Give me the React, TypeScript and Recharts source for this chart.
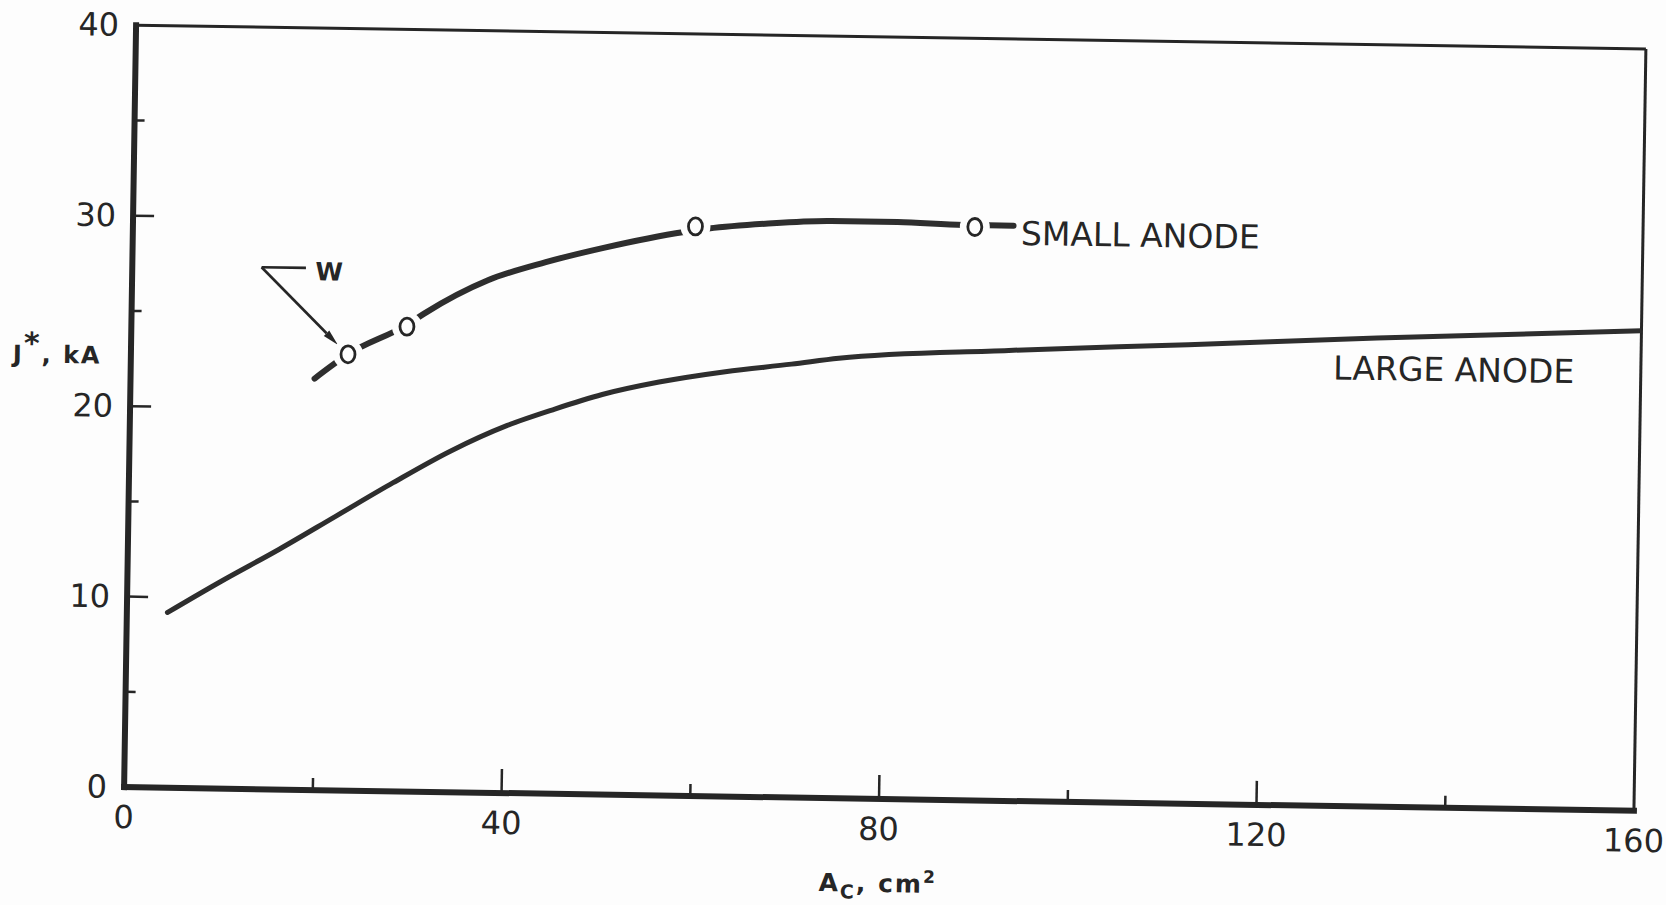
import React from "react";
import {
  ComposedChart, Line, Scatter, XAxis, YAxis, ReferenceLine, ReferenceDot,
} from "recharts";

// large anode curve
const largeX = [4.3, 10, 16, 22, 28, 34, 40, 45, 50, 56, 63, 70, 75, 93, 112, 132, 160];
const largeY = [9.2, 10.9, 12.6, 14.4, 16.2, 17.9, 19.3, 20.2, 21.0, 21.7, 22.3, 22.75, 23.1, 23.65, 24.1, 24.6, 25.2];

// small anode faired curve + measured points (open circles)
const smallX = [19.5, 23, 29.2, 31, 37.7, 43.8, 49.9, 58.4, 61, 67, 74, 81, 88, 93.3];
const smallY = [21.6, 22.9, 24.5, 25.1, 26.9, 27.9, 28.7, 29.6, 29.8, 30.1, 30.3, 30.3, 30.2, 30.2];
const pointX = [23, 29.2, 59.6, 89.2];
const pointY = [22.9, 24.4, 29.9, 30.1];

const xTicks = [0, 20, 40, 60, 80, 100, 120, 140, 160];
const yTicks = [0, 5, 10, 15, 20, 25, 30, 35, 40];

// "W" pointer: elbow, end of short bar, arrow tip, letter position
const wElbow = { x: 13.7, y: 27.4 };
const wBarEnd = { x: 18.4, y: 27.4 };
const wTip = { x: 21.9, y: 23.4 };
const wText = { x: 19.4, y: 27.2 };

const curveLabels = [
  { text: "SMALL ANODE", x: 94.1, y: 29.8 },
  { text: "LARGE ANODE", x: 127.4, y: 23.0 },
];

const INK = "#262626";
const BG = "#fdfdfd";
const FONT = "'DejaVu Sans', sans-serif";

const largeData = largeX.map((x, i) => ({ x, y: largeY[i] }));
const smallData = smallX.map((x, i) => ({ x, y: smallY[i] }));
const pointData = pointX.map((x, i) => ({ x, y: pointY[i] }));

const Y_MARGIN = 17;
const X_MARGIN = 30;

function YTick(props: any) {
  const { x, y, payload } = props;
  const v = payload.value;
  const major = v % 10 === 0;
  const ax = x + Y_MARGIN;
  return (
    <g>
      {v > 0 && v < 40 && (
        <line x1={ax} x2={ax + (major ? 21 : 10)} y1={y} y2={y} stroke={INK} strokeWidth={2.5} />
      )}
      {major && (
        <text x={x} y={y} textAnchor="end" dominantBaseline="central" fontSize={32} fill={INK} fontFamily={FONT}>
          {v}
        </text>
      )}
    </g>
  );
}

function XTick(props: any) {
  const { x, y, payload } = props;
  const v = payload.value;
  const major = v % 40 === 0;
  const ay = y - X_MARGIN;
  return (
    <g>
      {v > 0 && v < 160 && (
        <line x1={x} x2={x} y1={ay} y2={ay - (major ? 24 : 12)} stroke={INK} strokeWidth={2.5} />
      )}
      {major && (
        <text x={x} y={y} textAnchor="middle" dominantBaseline="central" fontSize={32} fill={INK} fontFamily={FONT}>
          {v}
        </text>
      )}
    </g>
  );
}

function OpenCircle(props: any) {
  const { cx, cy } = props;
  return (
    <g>
      <circle cx={cx} cy={cy} r={15} fill={BG} />
      <ellipse cx={cx} cy={cy} rx={7} ry={8.5} fill={BG} stroke={INK} strokeWidth={2.8} />
    </g>
  );
}

function Arrow(p: any) {
  const { x1, y1, x2, y2 } = p;
  const a = Math.atan2(y2 - y1, x2 - x1);
  const L = 16, W = 3.8;
  const bx = x2 - L * Math.cos(a), by = y2 - L * Math.sin(a);
  const nx = -Math.sin(a) * W, ny = Math.cos(a) * W;
  return (
    <g>
      <line x1={x1} y1={y1} x2={bx} y2={by} stroke={INK} strokeWidth={2.6} />
      <polygon points={`${x2},${y2} ${bx + nx},${by + ny} ${bx - nx},${by - ny}`} fill={INK} />
    </g>
  );
}

const textAt = (txt: string, size: number, weight: string | number) => (p: any) => (
  <text
    x={p.viewBox.x}
    y={p.viewBox.y}
    dominantBaseline="central"
    fontSize={size}
    fontWeight={weight}
    fill={INK}
    fontFamily={FONT}
  >
    {txt}
  </text>
);

function JLabel(p: any) {
  const vb = p.viewBox;
  return (
    <text
      x={vb.x + 4}
      y={vb.y + vb.height * 0.433 + 9}
      fontSize={24}
      fontWeight="bold"
      letterSpacing={2}
      fill={INK}
      fontFamily={FONT}
    >
      J
      <tspan dy={-9} fontSize={30}>*</tspan>
      <tspan dy={9}>, kA</tspan>
    </text>
  );
}

function ALabel(p: any) {
  const vb = p.viewBox;
  return (
    <text
      x={vb.x + vb.width / 2}
      y={vb.y + 93}
      textAnchor="middle"
      fontSize={25}
      fontWeight="bold"
      letterSpacing={2}
      fill={INK}
      fontFamily={FONT}
    >
      A
      <tspan dy={7} fontSize={19}>C</tspan>
      <tspan dy={-7}>, cm</tspan>
      <tspan dy={-10} fontSize={17}>2</tspan>
    </text>
  );
}

export default function App() {
  return (
    <div style={{ position: "absolute", left: 0, top: 0, width: 1666, height: 905, background: BG, overflow: "hidden" }}>
      <div style={{ transform: "rotate(0.9deg)", transformOrigin: "885px 418px" }}>
        <ComposedChart width={1700} height={905} margin={{ top: 37, right: 60, bottom: 6, left: 8 }}>
          <XAxis
            type="number"
            dataKey="x"
            domain={[0, 160]}
            ticks={xTicks}
            interval={0}
            height={100}
            tickSize={0}
            tickMargin={X_MARGIN}
            tickLine={false}
            tick={XTick}
            axisLine={{ stroke: INK, strokeWidth: 6, strokeLinecap: "square" }}
            label={ALabel}
            allowDataOverflow
          />
          <YAxis
            type="number"
            dataKey="y"
            domain={[0, 40]}
            ticks={yTicks}
            interval={0}
            width={122}
            tickSize={0}
            tickMargin={Y_MARGIN}
            tickLine={false}
            tick={YTick}
            axisLine={{ stroke: INK, strokeWidth: 6, strokeLinecap: "square" }}
            label={JLabel}
            allowDataOverflow
          />
          <ReferenceLine y={40} stroke={INK} strokeWidth={3} />
          <ReferenceLine x={160} stroke={INK} strokeWidth={3} />
          <Line
            data={largeData}
            dataKey="y"
            type="monotone"
            stroke="#2e2e2e"
            strokeWidth={5}
            strokeLinecap="round"
            dot={false}
            isAnimationActive={false}
          />
          <Line
            data={smallData}
            dataKey="y"
            type="monotone"
            stroke="#2e2e2e"
            strokeWidth={6}
            strokeLinecap="round"
            dot={false}
            isAnimationActive={false}
          />
          <Scatter data={pointData} dataKey="y" shape={OpenCircle} isAnimationActive={false} />
          <ReferenceLine segment={[wElbow, wBarEnd]} stroke={INK} strokeWidth={2.6} />
          <ReferenceLine segment={[wElbow, wTip]} shape={Arrow} />
          <ReferenceDot x={wText.x} y={wText.y} r={0} fill="none" stroke="none" label={textAt("W", 25, "bold")} />
          {curveLabels.map((l) => (
            <ReferenceDot key={l.text} x={l.x} y={l.y} r={0} fill="none" stroke="none" label={textAt(l.text, 33, "normal")} />
          ))}
        </ComposedChart>
      </div>
    </div>
  );
}
